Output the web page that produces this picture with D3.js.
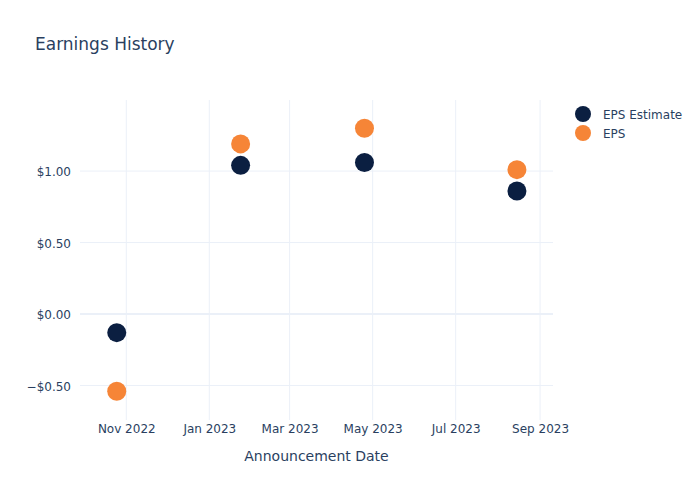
<!DOCTYPE html>
<html><head><meta charset="utf-8">
<script src="https://cdn.jsdelivr.net/npm/d3@7"></script>
<style>body{margin:0;background:#fff;} text{font-family:"DejaVu Sans",Verdana,sans-serif;}</style>
</head><body>
<svg id="chart" width="700" height="500"></svg>
<script>
const dates = ["2022-10-25","2023-01-24","2023-04-25","2023-08-15"];
const epsEstimate = [-0.13, 1.04, 1.06, 0.86];
const epsActual = [-0.54, 1.19, 1.30, 1.01];
const yTicks = [-0.5, 0, 0.5, 1.0];
const xTicks = ["2022-11-01","2023-01-01","2023-03-01","2023-05-01","2023-07-01","2023-09-01"];
const seriesNames = ["EPS Estimate","EPS"];
const colors = ["#0b1f41","#f68537"];

const svg = d3.select("#chart");
const W = 700, H = 500, m = {l:80, r:147, t:100, b:80};
const parse = d3.utcParse("%Y-%m-%d");
const x = d3.scaleUtc()
  .domain([parse("2022-09-28"), new Date(Date.UTC(2023,8,10,12))])
  .range([m.l, W - m.r]);
const y = d3.scaleLinear().domain([-0.741, 1.497]).range([H - m.b, m.t]);

svg.append("rect").attr("width",W).attr("height",H).attr("fill","#fff");

const grid = svg.append("g");
xTicks.forEach(t => {
  grid.append("line").attr("x1",x(parse(t))).attr("x2",x(parse(t)))
    .attr("y1",m.t).attr("y2",H-m.b).attr("stroke","#ebf0f8").attr("stroke-width",1);
});
yTicks.forEach(t => {
  grid.append("line").attr("x1",m.l).attr("x2",W-m.r)
    .attr("y1",y(t)).attr("y2",y(t)).attr("stroke","#ebf0f8").attr("stroke-width", t===0?2:1);
});

// axes
const xAxis = d3.axisBottom(x).tickValues(xTicks.map(parse)).tickFormat(d3.utcFormat("%b %Y")).tickSize(0).tickPadding(4);
const gx = svg.append("g").attr("transform",`translate(0,${H-m.b})`).call(xAxis);
gx.select(".domain").remove();
gx.selectAll("text").attr("fill","#2a3f5f").style("font-size","12px");

const fmt = v => (v < 0 ? "\u2212$" : "$") + Math.abs(v).toFixed(2);
const yAxis = d3.axisLeft(y).tickValues(yTicks).tickFormat(fmt).tickSize(0).tickPadding(9);
const gy = svg.append("g").attr("transform",`translate(${m.l},0)`).call(yAxis);
gy.select(".domain").remove();
gy.selectAll("text").attr("fill","#2a3f5f").style("font-size","12px").attr("dy","0.4em");

// points
const series = [epsEstimate, epsActual];
series.forEach((vals, i) => {
  svg.append("g").selectAll("circle").data(vals).join("circle")
    .attr("cx",(d,j)=>x(parse(dates[j]))).attr("cy",d=>y(d)).attr("r",9.5)
    .attr("fill",colors[i]);
});

// title
svg.append("text").attr("x",35).attr("y",50).text("Earnings History")
  .attr("fill","#2a3f5f").style("font-size","17px");
svg.append("text").attr("x",(m.l + W - m.r)/2).attr("y",461).attr("text-anchor","middle")
  .text("Announcement Date").attr("fill","#2a3f5f").style("font-size","14px");

// legend
seriesNames.forEach((n,i) => {
  const ly = 114 + i*19;
  svg.append("circle").attr("cx",583).attr("cy",ly).attr("r",8).attr("fill",colors[i]);
  svg.append("text").attr("x",603).attr("y",ly+4.5).text(n).attr("fill","#2a3f5f").style("font-size","12px");
});
</script>
</body></html>
